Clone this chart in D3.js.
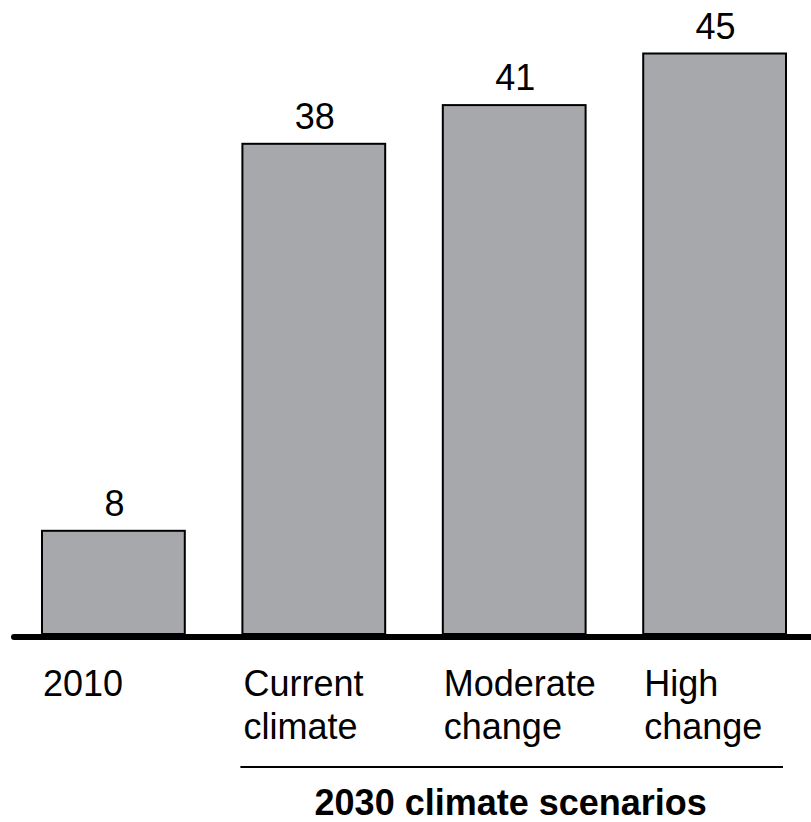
<!DOCTYPE html>
<html>
<head>
<meta charset="utf-8">
<script src="https://cdn.jsdelivr.net/npm/d3@7"></script>
<style>
  html, body { margin: 0; padding: 0; background: #fff; }
  svg { display: block; }
  text { font-family: "Liberation Sans", Arial, sans-serif; fill: #000; }
</style>
</head>
<body>
<svg id="chart" width="811" height="822"></svg>
<script>
const categories = ["2010", "Current climate", "Moderate change", "High change"];
const labelLines = [["2010"], ["Current", "climate"], ["Moderate", "change"], ["High", "change"]];
const values = [8, 38, 41, 45];
const groupTitle = "2030 climate scenarios";

const svg = d3.select("#chart");
const baseY = 634;

const x = d3.scaleBand()
  .domain(categories)
  .range([42, 786])
  .paddingInner(0.2875)
  .paddingOuter(0);

const y = d3.scaleLinear()
  .domain([0, 45])
  .range([baseY, 53.5]);

// bars
svg.selectAll("rect.bar")
  .data(values)
  .join("rect")
  .attr("class", "bar")
  .attr("x", (d, i) => x(categories[i]))
  .attr("y", d => y(d))
  .attr("width", x.bandwidth())
  .attr("height", d => y(0) - y(d))
  .attr("fill", "#a7a8ac")
  .attr("stroke", "#000")
  .attr("stroke-width", 2);

// value labels
svg.selectAll("text.val")
  .data(values)
  .join("text")
  .attr("class", "val")
  .attr("x", (d, i) => x(categories[i]) + x.bandwidth() / 2 + 1)
  .attr("y", d => y(d) - 15)
  .attr("text-anchor", "middle")
  .attr("font-size", 36)
  .text(d => d);

// baseline axis
svg.append("line")
  .attr("x1", 14).attr("x2", 815)
  .attr("y1", y(0) + 3).attr("y2", y(0) + 3)
  .attr("stroke", "#000")
  .attr("stroke-width", 6)
  .attr("stroke-linecap", "round");

// category labels
const lab = svg.selectAll("text.cat")
  .data(categories)
  .join("text")
  .attr("class", "cat")
  .attr("font-size", 36)
  .attr("x", d => x(d) + 1)
  .attr("y", 696);
lab.selectAll("tspan")
  .data((d, i) => labelLines[i])
  .join("tspan")
  .attr("x", function() { return d3.select(this.parentNode).attr("x"); })
  .attr("dy", (d, j) => j === 0 ? 0 : 43)
  .text(d => d);

// group bracket line
const gx0 = x(categories[1]) - 2;
const gx1 = x(categories[3]) + x.bandwidth() - 3;
svg.append("line")
  .attr("x1", gx0).attr("x2", gx1)
  .attr("y1", 767).attr("y2", 767)
  .attr("stroke", "#000")
  .attr("stroke-width", 2);

svg.append("text")
  .attr("x", (gx0 + gx1) / 2 - 1)
  .attr("y", 815)
  .attr("text-anchor", "middle")
  .attr("font-size", 36)
  .attr("font-weight", "bold")
  .text(groupTitle);
</script>
</body>
</html>
